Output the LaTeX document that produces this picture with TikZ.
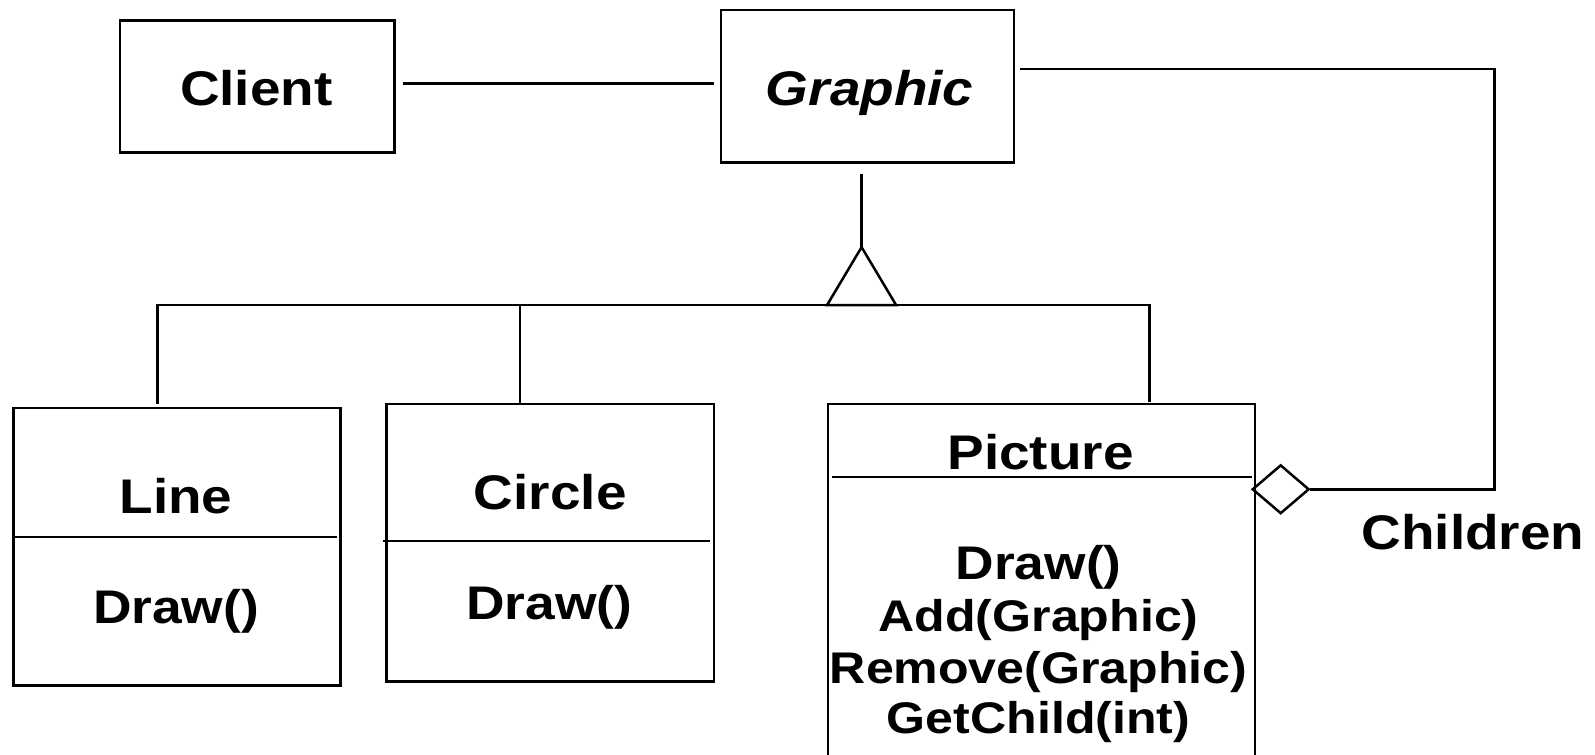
\documentclass[tikz,border=0pt]{standalone}
\usepackage{fontspec}
\setmainfont{Liberation Sans}[FakeStretch=1.13]
\usepackage{tikz}
\usetikzlibrary{positioning}
\usetikzlibrary{shapes.geometric}
\tikzstyle{classbox}=[draw,line width=1.4pt,inner sep=0pt]
\tikzstyle{classname}=[anchor=base,inner sep=0pt,font=\fontsize{27.2}{32}\selectfont\bfseries]
\tikzstyle{drawop}=[anchor=base,inner sep=0pt,font=\fontsize{26.4}{32}\selectfont\bfseries]
\tikzstyle{operation}=[anchor=base,inner sep=0pt,font=\fontsize{24.8}{30}\selectfont\bfseries]
\tikzstyle{undirectededge} = [draw,line width=1.4pt]
\tikzstyle{aggregation} = [diamond,draw,line width=1.4pt,inner sep=0pt,minimum width=1.12cm,minimum height=0.96cm]

\begin{document}
\begin{tikzpicture}[x=0.02cm,y=-0.02cm]
\useasboundingbox (0,0) rectangle (1568,742);

    % First we draw the class boxes
    \foreach \pos/\name/\w/\h in {{(253,85)/client/5.4/2.6}, {(853,85)/graphic/5.76/3.0}, {(174,537.5)/linebox/6.44/5.46}, {(541,533.5)/circlebox/6.44/5.46}, {(1024,588.5)/picturebox/8.4/7.66}}
        \node[classbox, minimum width=\w cm, minimum height=\h cm] (\name) at \pos {};

    % Class names
    \foreach \pos/\name/\label in {{(252,104)/clientname/Client}, {(855,104)/graphicname/\itshape Graphic}, {(173,505)/linename/Line}, {(541,501)/circlename/Circle}, {(1023,462)/picturename/Picture}, {(1448,540)/children/Children}}
        \node[classname] (\name) at \pos {\label};

    % Operations
    \foreach \pos/\name in {{(173,613)/linedraw}, {(540,609)/circledraw}, {(1021,570)/picturedraw}}
        \node[drawop] (\name) at \pos {Draw()};
    \foreach \y/\name/\label in {621/add/Add(Graphic), 672/remove/Remove(Graphic), 721/getchild/GetChild(int)}
        \node[operation] (\name) at (1021,\y) {\label};

    % Compartment lines
    \foreach \a/\b in {{(15,528)}/{(331,528)}, {(377,532)}/{(698,532)}, {(818,469)}/{(1231,469)}}
        \path[undirectededge] \a -- \b;

    % Client -- Graphic
    \path[undirectededge, shorten <=0.14cm, shorten >=0.12cm] ([yshift=0.06cm]client.east) -- ([yshift=0.06cm]graphic.west);

    % Inheritance triangle and tree
    \coordinate (apex) at (847,243);
    \coordinate (barmid) at (847,300);
    \draw[line width=1.4pt] (apex) -- (813,300) -- (881,300) -- cycle;
    \path[undirectededge, shorten <=0.2cm] (apex |- graphic.south) -- (apex);
    \coordinate (lineTop) at (155,397);
    \coordinate (circleTop) at (511,397);
    \coordinate (pictureTop) at (1130,395);
    \path[undirectededge] (lineTop) |- (pictureTop |- barmid) -- (pictureTop);
    \path[undirectededge] (circleTop) -- (circleTop |- barmid);

    % Aggregation of children
    \node[aggregation] (diam) at (1259,481) {};
    \coordinate (bend) at (1469,0);
    \path[undirectededge] ([xshift=0.1cm,yshift=0.34cm]graphic.east) -| (bend |- diam.east) -- (diam.east);

\end{tikzpicture}
\end{document}
